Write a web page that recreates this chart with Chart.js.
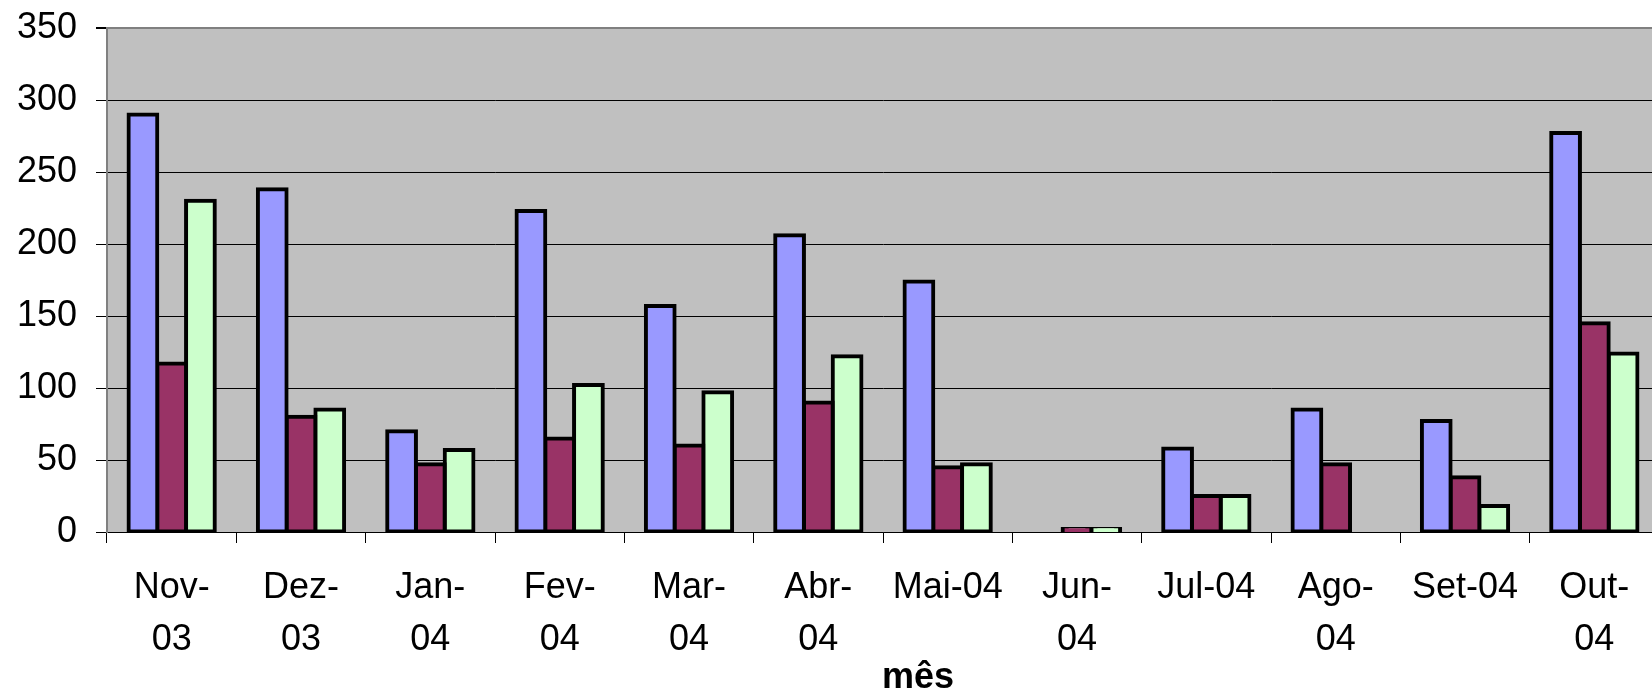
<!DOCTYPE html>
<html>
<head>
<meta charset="utf-8">
<script src="https://cdn.jsdelivr.net/npm/chart.js@4.4.1/dist/chart.umd.min.js"></script>
<style>
  html, body { margin: 0; padding: 0; background: #fff; overflow: hidden; }
  #wrap { width: 1664px; height: 697px; }
</style>
</head>
<body>
<div id="wrap"><canvas id="grafico"></canvas></div>
<script>
// categorias (meses) e séries
const meses = [['Nov-', '03'], ['Dez-', '03'], ['Jan-', '04'], ['Fev-', '04'], ['Mar-', '04'], ['Abr-', '04'],
               'Mai-04', ['Jun-', '04'], 'Jul-04', ['Ago-', '04'], 'Set-04', ['Out-', '04']];
const serie1 = [290, 238, 70, 223, 157, 206, 174, 0, 58, 85, 77, 277];
const serie2 = [117, 80, 47, 65, 60, 90, 45, 2, 25, 47, 38, 145];
const serie3 = [230, 85, 57, 102, 97, 122, 47, 2, 25, 0, 18, 124];
const yMax = 350;
const yPasso = 50;

const fonte = "'Liberation Sans', Arial, sans-serif";

// fundo cinza da área de plotagem
const fundoPlot = {
    id: 'fundoPlot',
    beforeDraw(chart) {
        const a = chart.chartArea;
        const ctx = chart.ctx;
        ctx.save();
        ctx.fillStyle = '#C0C0C0';
        ctx.fillRect(a.left, a.top, a.right - a.left, a.bottom - a.top);
        ctx.restore();
    }
};

// borda preta centrada na aresta da barra (como no Excel)
const barra = (label, data, cor) => ({
    label: label,
    data: data,
    backgroundColor: cor,
    borderColor: '#000',
    borderWidth: 4,
    inflateAmount: 2,
    borderSkipped: false,
    barPercentage: 1.0,
    categoryPercentage: 0.667
});

new Chart(document.getElementById('grafico').getContext('2d'), {
    type: 'bar',
    data: {
        labels: meses,
        datasets: [
            barra('Série 1', serie1, '#9999FF'),
            barra('Série 2', serie2, '#993366'),
            barra('Série 3', serie3, '#CCFFCC')
        ]
    },
    plugins: [fundoPlot],
    options: {
        responsive: true,
        maintainAspectRatio: false,
        animation: false,
        layout: { padding: { left: 7, right: 5, top: 28, bottom: 0 } },
        plugins: {
            legend: { display: false },
            tooltip: { enabled: false }
        },
        scales: {
            x: {
                grid: {
                    drawOnChartArea: false,
                    drawTicks: true,
                    tickLength: 11,
                    color: '#000',
                    offset: true
                },
                border: { color: '#000', width: 1 },
                ticks: {
                    color: '#000',
                    font: { family: fonte, size: 36, lineHeight: 1.45 },
                    padding: 19,
                    autoSkip: false,
                    maxRotation: 0,
                    minRotation: 0
                },
                title: {
                    display: true,
                    text: '\u00a0\u00a0\u00a0\u00a0\u00a0\u00a0\u00a0mês',
                    color: '#000',
                    font: { family: fonte, size: 36, weight: 'bold', lineHeight: 1.05 },
                    padding: { top: 0, bottom: 0 }
                },
                afterFit(scale) { scale.height = 165; }
            },
            y: {
                min: 0,
                max: yMax,
                ticks: {
                    stepSize: yPasso,
                    color: '#000',
                    font: { family: fonte, size: 36 },
                    padding: 19
                },
                grid: {
                    color: ctx => ctx.tick && ctx.tick.value === yMax ? '#808080' : '#000',
                    lineWidth: ctx => ctx.tick && ctx.tick.value === yMax ? 2 : 1,
                    tickColor: '#000',
                    tickLength: 11
                },
                border: { color: '#808080', width: 2 },
                afterFit(scale) {
                    scale.width = 100;
                    scale.paddingTop = 0;
                    scale.paddingBottom = 0;
                }
            }
        }
    }
});
</script>
</body>
</html>
